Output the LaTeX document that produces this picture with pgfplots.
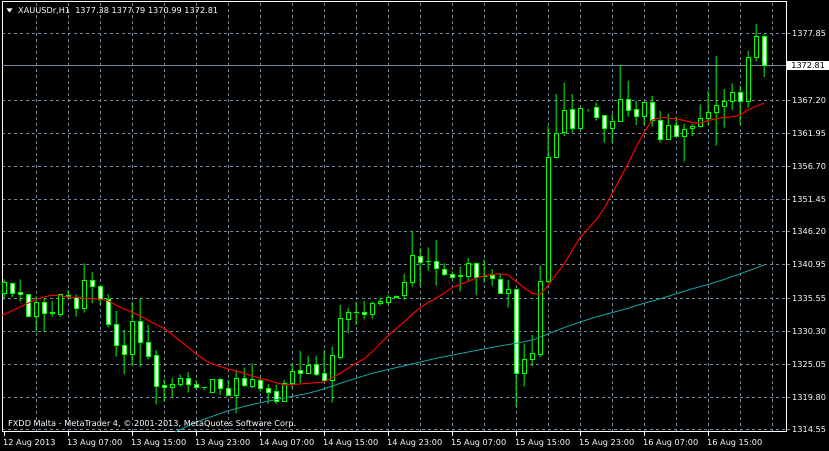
\documentclass[border=0pt]{standalone}
\usepackage{pgfplots}
\pgfplotsset{compat=1.18}
\usepackage{pgfplotstable}
\usepackage{fontspec}
\setmainfont{DejaVu Sans}
\definecolor{mtgreen}{RGB}{0,255,0}
\definecolor{mtgrid}{RGB}{119,136,153}
\definecolor{mtteal}{RGB}{20,150,150}
\newcommand{\mtfont}{\fontsize{8.2}{9.5}\selectfont}

\pgfplotstableread{
x o h l c
0 1336.34 1338.63 1335.43 1338.15
1 1338.00 1338.10 1335.75 1336.40
2 1336.55 1338.63 1335.06 1336.23
3 1336.23 1336.30 1332.60 1332.72
4 1332.72 1335.90 1330.27 1334.96
5 1334.96 1335.60 1330.27 1333.20
6 1333.20 1335.17 1332.66 1333.25
7 1333.04 1336.30 1332.66 1336.23
8 1335.86 1336.93 1335.43 1336.07
9 1335.75 1336.23 1332.66 1333.94
10 1333.94 1341.19 1333.30 1338.47
11 1338.47 1339.80 1334.80 1337.46
12 1337.50 1337.60 1334.53 1335.40
13 1335.40 1336.25 1330.96 1331.44
14 1331.33 1333.56 1326.26 1328.08
15 1328.08 1330.53 1323.44 1326.64
16 1326.64 1335.00 1324.83 1331.91
17 1331.91 1335.59 1324.66 1328.56
18 1328.56 1331.33 1325.84 1326.32
19 1326.48 1327.33 1318.65 1321.52
20 1321.68 1322.64 1319.07 1321.36
21 1321.36 1322.85 1319.76 1321.84
22 1321.79 1323.44 1321.47 1322.85
23 1322.80 1323.81 1320.51 1321.79
24 1321.84 1322.53 1321.04 1321.36
25 1321.36 1321.40 1320.94 1321.31
26 1320.60 1322.60 1320.50 1322.54
27 1322.54 1322.91 1320.14 1321.15
28 1321.15 1322.54 1319.87 1320.09
29 1320.09 1324.14 1317.21 1322.75
30 1322.75 1324.51 1321.40 1321.58
31 1321.47 1325.20 1321.20 1322.64
32 1322.43 1322.91 1320.67 1321.15
33 1321.15 1321.90 1318.70 1320.57
34 1320.67 1321.74 1318.70 1319.02
35 1319.02 1322.54 1319.00 1321.90
36 1321.90 1325.15 1321.20 1323.92
37 1324.08 1327.17 1322.00 1323.60
38 1323.55 1326.37 1323.44 1324.90
39 1325.05 1326.37 1323.17 1323.38
40 1323.55 1327.33 1322.30 1322.40
41 1322.40 1327.86 1318.91 1326.37
42 1326.17 1334.52 1325.84 1332.39
43 1332.18 1334.04 1329.99 1333.40
44 1333.35 1335.06 1331.33 1333.38
45 1333.35 1335.16 1332.23 1333.03
46 1332.98 1335.06 1332.34 1334.79
47 1334.79 1335.75 1334.42 1335.06
48 1334.95 1336.10 1334.60 1335.75
49 1335.70 1336.05 1335.60 1335.96
50 1336.02 1339.48 1335.32 1338.15
51 1338.15 1346.35 1337.45 1342.36
52 1342.30 1343.58 1337.56 1341.29
53 1341.40 1343.74 1340.01 1341.45
54 1341.50 1344.91 1337.61 1340.33
55 1340.22 1341.18 1339.16 1339.43
56 1339.43 1339.90 1338.60 1338.89
57 1339.10 1340.65 1336.66 1339.16
58 1339.05 1342.04 1338.25 1341.08
59 1341.18 1341.30 1336.12 1338.95
60 1339.00 1341.82 1338.09 1339.05
61 1339.16 1340.22 1337.56 1338.79
62 1338.63 1339.58 1336.30 1336.39
63 1336.39 1338.52 1334.10 1336.93
64 1336.93 1336.95 1318.28 1323.60
65 1323.50 1328.40 1321.48 1325.85
66 1325.85 1329.73 1324.78 1326.70
67 1326.59 1340.82 1326.17 1338.31
68 1338.31 1363.03 1337.99 1358.13
69 1358.13 1368.26 1358.00 1361.86
70 1362.08 1370.07 1361.54 1365.64
71 1365.80 1368.26 1362.08 1362.77
72 1362.77 1366.00 1362.70 1365.96
73 1365.80 1365.85 1365.43 1365.80
74 1366.13 1366.87 1364.00 1364.53
75 1364.74 1364.80 1360.48 1362.72
76 1362.72 1365.06 1360.48 1363.89
77 1363.83 1372.79 1363.80 1367.40
78 1367.40 1370.34 1364.63 1365.65
79 1365.81 1367.19 1363.30 1364.63
80 1364.63 1367.00 1363.30 1366.82
81 1366.82 1367.94 1363.04 1363.99
82 1364.05 1365.54 1360.48 1361.01
83 1361.01 1365.06 1360.90 1363.25
84 1363.25 1364.63 1361.40 1361.44
85 1361.44 1363.46 1357.44 1362.61
86 1362.77 1363.46 1361.54 1363.08
87 1363.03 1366.60 1362.87 1364.36
88 1364.36 1368.73 1363.30 1365.32
89 1365.32 1374.33 1360.00 1366.49
90 1366.28 1369.05 1362.87 1367.13
91 1367.03 1369.96 1365.70 1368.52
92 1368.52 1369.58 1363.30 1367.03
93 1367.03 1375.13 1366.07 1374.11
94 1374.11 1379.44 1373.42 1377.37
95 1377.38 1377.79 1370.99 1372.81
}\candles

\pgfplotstableread{
x ma
-0.25 1332.9
0 1333.0
1 1333.6
2 1334.2
3 1334.8
4 1335.4
5 1335.8
6 1336.1
7 1336.0
8 1335.8
9 1335.7
10 1335.6
11 1335.5
12 1335.5
13 1335.2
14 1334.5
15 1333.9
16 1333.4
17 1332.8
18 1332.1
19 1331.4
20 1330.8
21 1329.8
22 1328.8
23 1327.8
24 1326.7
25 1325.8
26 1325.1
27 1324.7
28 1324.3
29 1324.0
30 1323.6
31 1323.2
32 1322.8
33 1322.5
34 1322.1
35 1321.8
36 1321.8
37 1321.9
38 1322.0
39 1322.1
40 1322.2
41 1322.9
42 1323.6
43 1324.4
44 1325.2
45 1325.9
46 1327.0
47 1328.3
48 1329.6
49 1330.7
50 1331.8
51 1333.0
52 1334.1
53 1334.9
54 1335.6
55 1336.4
56 1337.3
57 1337.8
58 1338.3
59 1338.8
60 1339.16
61 1339.45
62 1339.5
63 1339.35
64 1338.3
65 1337.3
66 1336.4
67 1336.2
68 1337.6
69 1339.4
70 1341.0
71 1343.2
72 1345.3
73 1346.7
74 1348.1
75 1349.9
76 1352.3
77 1354.7
78 1357.1
79 1359.7
80 1362.1
81 1364.1
82 1364.5
83 1364.4
84 1364.3
85 1364.0
86 1363.7
87 1363.6
88 1364.0
89 1364.3
90 1364.5
91 1364.6
92 1364.9
93 1365.7
94 1366.3
95 1366.8
}\redma

\pgfplotstableread{
x ma
20 1313.3
22 1314.6
24 1315.8
26 1316.7
28 1317.6
30 1318.3
32 1318.9
34 1319.4
36 1319.9
38 1320.4
40 1321.1
42 1322.0
44 1322.8
46 1323.6
48 1324.2
50 1324.8
52 1325.4
54 1326.0
56 1326.5
58 1327.0
60 1327.5
62 1327.98
64 1328.4
66 1328.9
68 1329.9
70 1330.9
72 1331.8
74 1332.6
76 1333.3
78 1334.0
80 1334.8
82 1335.5
84 1336.3
86 1337.1
88 1337.8
90 1338.6
92 1339.5
95 1340.9
}\tealma

\pgfplotsset{
  mtbase/.style={
    scale only axis, width=784bp, height=430bp,
    at={(2bp,19bp)}, anchor=south west,
    xmin=-0.25, xmax=97.75, ymin=1314.22, ymax=1382.96,
    enlargelimits=false, clip=true,
  }
}

\begin{document}
\begin{tikzpicture}
\fill[black] (0,0) rectangle (829bp,451bp);
\useasboundingbox (0,0) rectangle (829bp,451bp);

% frame, grid, ticks and labels
\begin{axis}[mtbase,
  axis line style={white, line width=1bp},
  xtick={0,8,16,24,32,40,48,56,64,72,80,88},
  xticklabels={12 Aug 2013, 13 Aug 07:00, 13 Aug 15:00, 13 Aug 23:00, 14 Aug 07:00, 14 Aug 15:00, 14 Aug 23:00, 15 Aug 07:00, 15 Aug 15:00, 15 Aug 23:00, 16 Aug 07:00, 16 Aug 15:00},
  minor xtick={4,8,...,96},
  xmajorgrids=false, xminorgrids=true, ymajorgrids=true,
  minor grid style={mtgrid, dash pattern=on 3bp off 3bp, line width=1bp},
  major grid style={mtgrid, dash pattern=on 3bp off 3bp, line width=1bp},
  xtick pos=bottom, ytick pos=right,
  tick align=outside, major tick length=4bp, minor tick length=0pt,
  xtick style={white, line width=1bp},
  ytick style={mtgrid, line width=1bp},
  ytick={1314.55,1319.80,1325.05,1330.30,1335.55,1340.95,1346.20,1351.45,1356.70,1361.95,1367.20,1377.85},
  yticklabels={1314.55,1319.80,1325.05,1330.30,1335.55,1340.95,1346.20,1351.45,1356.70,1361.95,1367.20,1377.85},
  every tick label/.append style={font=\mtfont, text=white, inner sep=0pt},
  yticklabel style={anchor=west, xshift=2bp},
  xticklabel style={anchor=north west, xshift=-1bp, yshift=-3.5bp},
]
\addplot[mtgrid, line width=1bp] coordinates {(-0.25,1372.81) (97.75,1372.81)};
\end{axis}

% wicks
\begin{axis}[mtbase, hide axis, ybar stacked, bar width=1bp]
\addplot[draw=none, fill=none] table[x=x, y=l] {\candles};
\addplot[draw=none, fill=mtgreen] table[x=x, y expr={\thisrow{h}-\thisrow{l}}] {\candles};
\end{axis}

% bodies
\begin{axis}[mtbase, hide axis, ybar stacked, bar width=4bp]
\addplot[draw=none, fill=none] table[x=x, y expr={min(\thisrow{o},\thisrow{c})}] {\candles};
\addplot[draw=mtgreen, fill=black, line width=1bp] table[x=x, y expr={max(\thisrow{c}-\thisrow{o},0)}] {\candles};
\addplot[draw=mtgreen, fill=white, line width=1bp] table[x=x, y expr={max(\thisrow{o}-\thisrow{c},0)}] {\candles};
\end{axis}

% moving averages
\begin{axis}[mtbase, hide axis]
\addplot[mtteal, line width=1bp] table[x=x, y=ma] {\tealma};
\addplot[red, line width=1bp] table[x=x, y=ma] {\redma};
\coordinate (pl) at (axis cs:97.75,1372.81);
\end{axis}

\node[fill=white, text=black, font=\mtfont, anchor=west, inner xsep=2bp, inner ysep=1.5bp, minimum width=42bp] at ([xshift=1bp]pl) {1372.81};
\fill[white] (6.5bp,442.5bp) -- (12.5bp,442.5bp) -- (9.5bp,438.5bp) -- cycle;
\node[anchor=west, text=white, font=\mtfont, inner sep=0pt] at (18bp,440.5bp) {XAUUSDr,H1\ \ 1377.38 1377.79 1370.99 1372.81};
\node[anchor=west, text=white, font=\mtfont, inner sep=0pt] at (8bp,27bp) {FXDD Malta - MetaTrader 4, © 2001-2013, MetaQuotes Software Corp.};
\end{tikzpicture}
\end{document}
